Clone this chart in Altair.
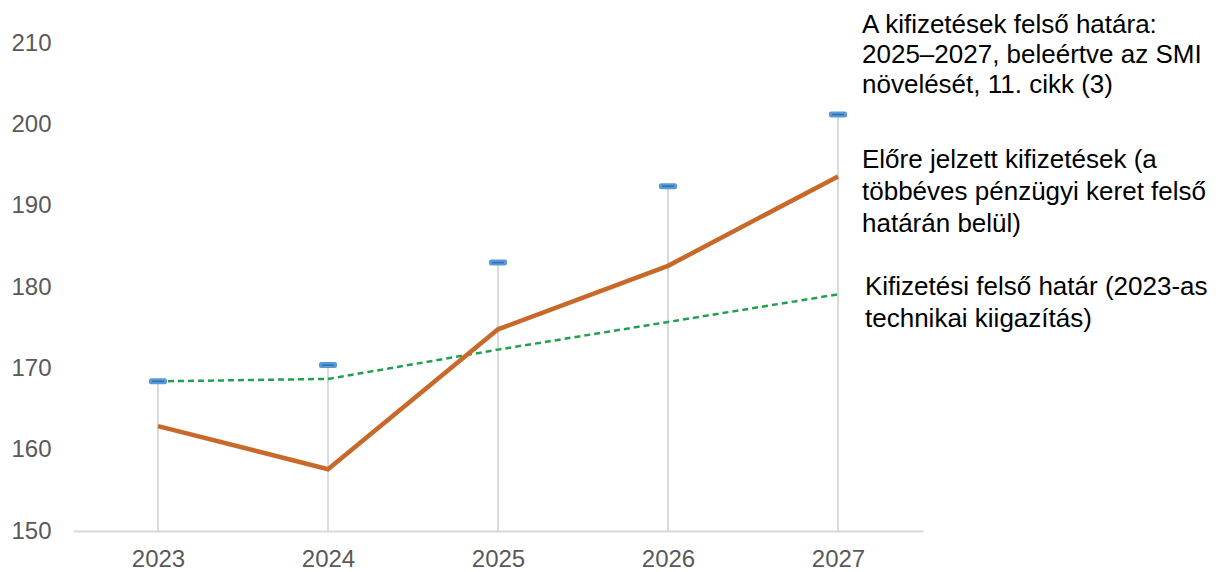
import altair as alt
import pandas as pd

years = ["2023", "2024", "2025", "2026", "2027"]
ceiling_incl_smi = [168.4, 170.4, 183.0, 192.4, 201.2]
forecast_payments = [162.9, 157.6, 174.8, 182.6, 193.6]
payment_ceiling = [168.4, 168.7, 172.3, 175.7, 179.1]

label_ceiling_smi = "A kifizetések felső határa:\n2025–2027, beleértve az SMI\nnövelését, 11. cikk (3)"
label_forecast = "Előre jelzett kifizetések (a\ntöbbéves pénzügyi keret felső\nhatárán belül)"
label_ceiling = "Kifizetési felső határ (2023-as\ntechnikai kiigazítás)"

FONT = "Liberation Sans"

df = pd.DataFrame({
    "year": years,
    "smi": ceiling_incl_smi,
    "forecast": forecast_payments,
    "ceiling": payment_ceiling,
    "base": [150] * len(years),
    "lab_smi": [label_ceiling_smi] * len(years),
    "lab_forecast": [label_forecast] * len(years),
    "lab_ceiling": [label_ceiling] * len(years),
})

x = alt.X("year:O", scale=alt.Scale(type="point", padding=0.5),
          axis=alt.Axis(title=None, labelAngle=0, ticks=False, domainColor="#d9d9d9",
                        domainWidth=2, labelColor="#595959", labelFontSize=24,
                        labelFont=FONT, labelPadding=16, grid=False))
yscale = alt.Scale(domain=[150, 210], nice=False, zero=False)
yaxis = alt.Axis(title=None, values=[150, 160, 170, 180, 190, 200, 210], ticks=False,
                 domain=False, grid=False, labelColor="#595959", labelFontSize=24,
                 labelFont=FONT, labelPadding=22)

base = alt.Chart(df)

rules = base.mark_rule(color="#dadada", strokeWidth=2).encode(
    x=x, y=alt.Y("smi:Q", scale=yscale, axis=yaxis), y2="base:Q")

green = base.mark_line(color="#23a04f", strokeWidth=2.5, strokeDash=[6, 4]).encode(
    x=x, y=alt.Y("ceiling:Q", scale=yscale))

orange = base.mark_line(color="#c8692a", strokeWidth=4.5).encode(
    x=x, y=alt.Y("forecast:Q", scale=yscale))

ticks_outer = base.mark_tick(color="#5b9bd5", size=18, thickness=6, cornerRadius=2, opacity=1).encode(
    x=x, y=alt.Y("smi:Q", scale=yscale))
ticks_inner = base.mark_tick(color="#2f6cb0", size=12, thickness=1.5, opacity=1).encode(
    x=x, y=alt.Y("smi:Q", scale=yscale))

last = alt.datum.year == "2027"
txt_kw = dict(align="left", baseline="middle", font=FONT, fontSize=26, lineBreak="\n",
              lineHeight=30, color="#000000", dx=24)

t1 = base.transform_filter(last).mark_text(dy=-90, **txt_kw).encode(
    x=x, y=alt.Y("smi:Q", scale=yscale), text="lab_smi:N")
t2 = base.transform_filter(last).mark_text(dy=-16, **{**txt_kw, "lineHeight": 32}).encode(
    x=x, y=alt.Y("forecast:Q", scale=yscale), text="lab_forecast:N")
t3 = base.transform_filter(last).mark_text(dy=-7, **{**txt_kw, "dx": 27, "lineHeight": 32}).encode(
    x=x, y=alt.Y("ceiling:Q", scale=yscale), text="lab_ceiling:N")

chart = alt.layer(rules, green, orange, ticks_outer, ticks_inner, t1, t2, t3).properties(
    width=850, height=488,
    autosize=alt.AutoSizeParams(type="none"),
    padding={"left": 65, "top": 35, "right": 287, "bottom": 41},
).configure_view(stroke=None)

chart.save("out.html", embed_options={"renderer": "svg", "actions": False})
